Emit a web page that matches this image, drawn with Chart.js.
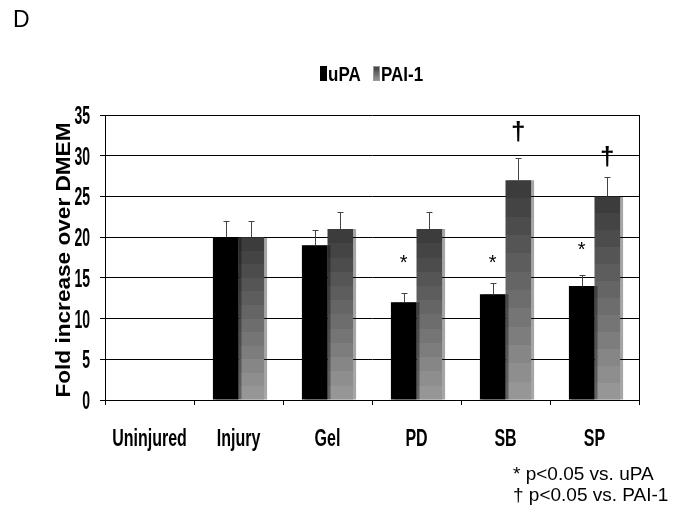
<!DOCTYPE html>
<html>
<head>
<meta charset="utf-8">
<script src="https://cdn.jsdelivr.net/npm/chart.js@4.4.1/dist/chart.umd.min.js"></script>
<style>
  html, body { margin: 0; padding: 0; background: #fff; }
  #wrap { position: relative; width: 688px; height: 517px; }
</style>
</head>
<body>
<div id="wrap"><canvas id="chart"></canvas></div>
<script>
const categories = ["Uninjured", "Injury", "Gel", "PD", "SB", "SP"];
const upaValues = [0, 20, 19, 12, 13, 14];
const pai1Values = [0, 20, 21, 21, 27, 25];
const upaErrors = [0, 2, 1.9, 1.2, 1.4, 1.4];
const pai1Errors = [0, 2, 2.1, 2.1, 2.7, 2.4];
// where the significance marks sit (y value), null = none
const starMarks = [null, null, null, 17.3, 17.3, 18.8];
const daggerMarks = [null, null, null, null, 32.8, 29.8];
const yTicks = [0, 5, 10, 15, 20, 25, 30, 35];

const SANS = '"Liberation Sans", Arial, sans-serif';

// banded grey fill, dark on top, light at the base
function bandFill(ctx, top, bottom) {
  const g = ctx.createLinearGradient(0, top, 0, bottom);
  const bands = 12;
  for (let i = 0; i < bands; i++) {
    const v = Math.round(0x3c + (0x96 - 0x3c) * i / (bands - 1));
    const c = `rgb(${v},${v},${v})`;
    g.addColorStop(i / bands, c);
    g.addColorStop((i + 1) / bands, c);
  }
  return g;
}

function paiColor(context) {
  const chart = context.chart;
  if (!chart.chartArea || context.type !== "data") return "#707070";
  const y = chart.scales.y;
  const top = y.getPixelForValue(context.raw);
  const bottom = y.getPixelForValue(0);
  if (bottom - top < 1) return "#707070";
  return bandFill(chart.ctx, top, bottom);
}

// the original figure is squashed sideways, so text is drawn stretched
function stretchText(ctx, text, x, y, sx, sy, rot) {
  ctx.save();
  ctx.translate(x, y);
  if (rot) ctx.rotate(rot);
  ctx.scale(sx, sy);
  ctx.fillText(text, 0, 0);
  ctx.restore();
}

const extras = {
  id: "extras",
  beforeDatasetsDraw(chart) {
    const ctx = chart.ctx;
    ctx.save();
    ctx.shadowColor = "rgba(0,0,0,0.35)";
    ctx.shadowOffsetX = 3;
    ctx.shadowOffsetY = 0;
    ctx.shadowBlur = 0;
  },
  afterDatasetsDraw(chart) {
    const ctx = chart.ctx;
    ctx.restore();
    const x = chart.scales.x;
    const y = chart.scales.y;
    const area = chart.chartArea;

    // right frame line
    ctx.save();
    ctx.strokeStyle = "#000";
    ctx.lineWidth = 1;
    ctx.beginPath();
    ctx.moveTo(area.right + 0.5, area.top);
    ctx.lineTo(area.right + 0.5, area.bottom);
    ctx.stroke();

    // error bars (upper only)
    const errs = [upaErrors, pai1Errors];
    chart.data.datasets.forEach((ds, di) => {
      const meta = chart.getDatasetMeta(di);
      meta.data.forEach((bar, i) => {
        const e = errs[di][i];
        if (!e) return;
        const bx = Math.round(bar.x) + 0.5;
        const y0 = y.getPixelForValue(ds.data[i]);
        const y1 = Math.round(y.getPixelForValue(ds.data[i] + e)) + 0.5;
        ctx.strokeStyle = "#444";
        ctx.lineWidth = 1;
        ctx.beginPath();
        ctx.moveTo(bx, y0);
        ctx.lineTo(bx, y1);
        ctx.moveTo(bx - 3, y1);
        ctx.lineTo(bx + 3, y1);
        ctx.stroke();
      });
    });

    // significance marks
    ctx.fillStyle = "#000";
    ctx.textAlign = "center";
    ctx.textBaseline = "middle";
    const upaMeta = chart.getDatasetMeta(0);
    const paiMeta = chart.getDatasetMeta(1);
    starMarks.forEach((v, i) => {
      if (v === null) return;
      ctx.font = "20px " + SANS;
      ctx.fillText("*", upaMeta.data[i].x, y.getPixelForValue(v) + 4);
    });
    daggerMarks.forEach((v, i) => {
      if (v === null) return;
      ctx.font = "bold 26px " + SANS;
      ctx.fillText("\u2020", paiMeta.data[i].x, y.getPixelForValue(v));
    });

    // tick labels, taken from the library's scales
    ctx.textBaseline = "alphabetic";
    ctx.font = "bold 14px " + SANS;
    ctx.textAlign = "right";
    y.ticks.forEach((t, i) => {
      stretchText(ctx, String(t.value), area.left - 15, y.getPixelForTick(i) + 9, 1, 1.85);
    });
    ctx.font = "bold 16px " + SANS;
    ctx.textAlign = "center";
    x.getLabels().forEach((lab, i) => {
      stretchText(ctx, lab, x.getPixelForTick(i), area.bottom + 46, 1, 1.48);
    });

    // axis title
    ctx.font = "bold 20px " + SANS;
    ctx.textBaseline = "middle";
    stretchText(ctx, "Fold increase over DMEM", 64, 260, 1.13, 1, -Math.PI / 2);

    // legend
    const ly = 81;
    ctx.textAlign = "left";
    ctx.textBaseline = "alphabetic";
    ctx.font = "bold 17px " + SANS;
    ctx.fillStyle = "#000";
    ctx.fillRect(320, ly - 15, 7, 15);
    stretchText(ctx, chart.data.datasets[0].label, 328, ly, 1, 1.23);
    ctx.fillStyle = bandFill(ctx, ly - 15, ly);
    ctx.fillRect(373, ly - 15, 7, 15);
    ctx.strokeStyle = "#999";
    ctx.strokeRect(373.5, ly - 14.5, 6, 14);
    ctx.fillStyle = "#000";
    stretchText(ctx, chart.data.datasets[1].label, 381, ly, 1, 1.23);

    // panel letter and footnotes
    ctx.font = "23px " + SANS;
    ctx.fillText("D", 13, 27);
    ctx.font = "19px " + SANS;
    ctx.fillText("* p<0.05 vs. uPA", 513, 480);
    ctx.fillText("\u2020 p<0.05 vs. PAI-1", 513, 501);
    ctx.restore();
  }
};

new Chart(document.getElementById("chart"), {
  type: "bar",
  data: {
    labels: categories,
    datasets: [
      {
        label: "uPA",
        data: upaValues,
        backgroundColor: "#000",
        borderWidth: 0,
        barPercentage: 1,
        categoryPercentage: 0.575,
      },
      {
        label: "PAI-1",
        data: pai1Values,
        backgroundColor: paiColor,
        borderWidth: 0,
        barPercentage: 1,
        categoryPercentage: 0.575,
      },
    ],
  },
  options: {
    responsive: true,
    maintainAspectRatio: false,
    animation: false,
    layout: {
      padding: { left: 45, right: 49, top: 115, bottom: 57 },
    },
    scales: {
      x: {
        afterFit(scale) { scale.height = 60; },
        border: { display: true, color: "#000", width: 1 },
        grid: {
          display: true,
          offset: true,
          drawOnChartArea: false,
          drawTicks: true,
          tickLength: 5,
          color: "#000",
        },
        ticks: {
          color: "rgba(0,0,0,0)",
          maxRotation: 0,
          minRotation: 0,
          autoSkip: false,
          font: { family: SANS, size: 16, weight: "bold" },
        },
      },
      y: {
        min: 0,
        max: 35,
        afterFit(scale) { scale.width = 60; },
        afterBuildTicks(scale) {
          scale.ticks = yTicks.map((v) => ({ value: v }));
        },
        border: { display: true, color: "#000", width: 1 },
        grid: {
          color: "#000",
          lineWidth: 1,
          tickLength: 5,
        },
        ticks: {
          color: "rgba(0,0,0,0)",
          font: { family: SANS, size: 14, weight: "bold" },
        },
      },
    },
    plugins: {
      legend: { display: false },
      tooltip: { enabled: false },
    },
  },
  plugins: [extras],
});
</script>
</body>
</html>
